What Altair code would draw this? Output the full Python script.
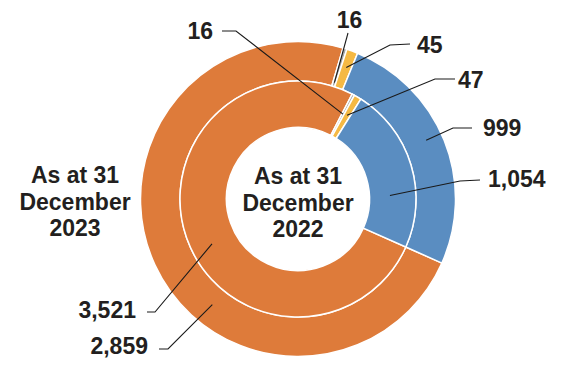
import math
import altair as alt
import pandas as pd

# ---- data ----
segments = ["Segment A", "Segment B", "Segment C", "Segment D"]
seg_colors = ["#DE7B3A", "#A7A7A7", "#F5B944", "#5A8DC1"]
values_2023 = [2859, 16, 45, 999]     # outer ring
values_2022 = [3521, 16, 47, 1054]    # inner ring
ring_titles = ["As at 31\nDecember\n2023", "As at 31\nDecember\n2022"]

# ---- layout ----
W, H = 545, 352
CX, CY = 290, 191
START = math.radians(114)
R_HOLE, R_MID, R_OUT = 71.5, 118, 157.5
FONT = "Liberation Sans"
TEXT_COLOR = "#231F20"

rows = []
for ring, vals in (("2023", values_2023), ("2022", values_2022)):
    for i, (s, v) in enumerate(zip(segments, vals)):
        rows.append({"ring": ring, "segment": s, "value": v, "order": i})
df = pd.DataFrame(rows)

color_scale = alt.Scale(domain=segments, range=seg_colors)


def ring_layer(ring, r0, r1):
    return alt.Chart(df[df["ring"] == ring]).mark_arc(
        innerRadius=r0, outerRadius=r1, stroke="white", strokeWidth=1.5
    ).encode(
        theta=alt.Theta("value:Q", stack=True,
                        scale=alt.Scale(range=[START, START + 2 * math.pi])),
        color=alt.Color("segment:N", scale=color_scale, legend=None),
        order=alt.Order("order:Q"),
        x=alt.value(CX),
        y=alt.value(CY),
    )


outer = ring_layer("2023", R_MID, R_OUT)
inner = ring_layer("2022", R_HOLE, R_MID)

# ---- annotation placement (layout): ring, segment index, position within slice,
#      anchor radius, elbow point, line end, text position, alignment ----
ann = [
    ("2023", 1, 0.5, 122, (340, 25), (340, 25), (341.5, 13), "center"),
    ("2023", 2, 0.5, 140, (382, 37), (402, 36), (409, 38), "left"),
    ("2022", 2, 0.5, 97, (427, 71), (447, 71), (450, 73), "left"),
    ("2022", 1, 0.5, 96, (228, 23), (214, 23), (205, 24), "right"),
    ("2023", 3, 0.47, 141, (445, 120), (464, 120), (475, 121), "left"),
    ("2022", 3, 0.68, 92, (452, 173), (472, 172), (480, 172), "left"),
    ("2022", 0, 0.47, 97, (147, 304), (139, 304), (128, 303), "right"),
    ("2023", 0, 0.40, 136, (160, 341), (151, 341), (140, 339), "right"),
]

line_rows, text_rows = [], []
for k, (ring, si, frac, r, elbow, lend, tpos, align) in enumerate(ann):
    vals = values_2023 if ring == "2023" else values_2022
    total = sum(vals)
    before = sum(vals[:si])
    ang = START + 2 * math.pi * (before + frac * vals[si]) / total
    ax, ay = CX + r * math.sin(ang), CY - r * math.cos(ang)
    for j, (px, py) in enumerate([(ax, ay), elbow, lend]):
        line_rows.append({"id": k, "j": j, "px": px, "py": py})
    text_rows.append({"label": f"{vals[si]:,}", "tx": tpos[0], "ty": tpos[1], "al": align})

lines = alt.Chart(pd.DataFrame(line_rows)).mark_line(
    color="#1A1A1A", strokeWidth=1.1
).encode(
    x=alt.X("px:Q", scale=None, axis=None),
    y=alt.Y("py:Q", scale=None, axis=None),
    detail="id:N",
    order="j:Q",
)

tdf = pd.DataFrame(text_rows)
text_layers = []
for al in ("left", "center", "right"):
    sub = tdf[tdf["al"] == al]
    if len(sub):
        text_layers.append(
            alt.Chart(sub).mark_text(
                align=al, baseline="middle", font=FONT, fontSize=23,
                fontWeight="bold", color=TEXT_COLOR
            ).encode(
                x=alt.X("tx:Q", scale=None, axis=None),
                y=alt.Y("ty:Q", scale=None, axis=None),
                text="label:N",
            )
        )

titles = alt.Chart(pd.DataFrame({
    "t": ring_titles, "tx": [67, CX], "ty": [168, 169]
})).mark_text(
    align="center", baseline="middle", lineBreak="\n", lineHeight=26.5,
    font=FONT, fontSize=23, fontWeight="bold", color=TEXT_COLOR
).encode(
    x=alt.X("tx:Q", scale=None, axis=None),
    y=alt.Y("ty:Q", scale=None, axis=None),
    text="t:N",
)

chart = alt.layer(outer, inner, lines, *text_layers, titles).resolve_scale(
    theta="independent"
).properties(
    width=W, height=H, padding=0, autosize=alt.AutoSizeParams(type="none")
).configure_view(stroke=None)

chart.save("out.html", embed_options={"renderer": "svg", "actions": False})
